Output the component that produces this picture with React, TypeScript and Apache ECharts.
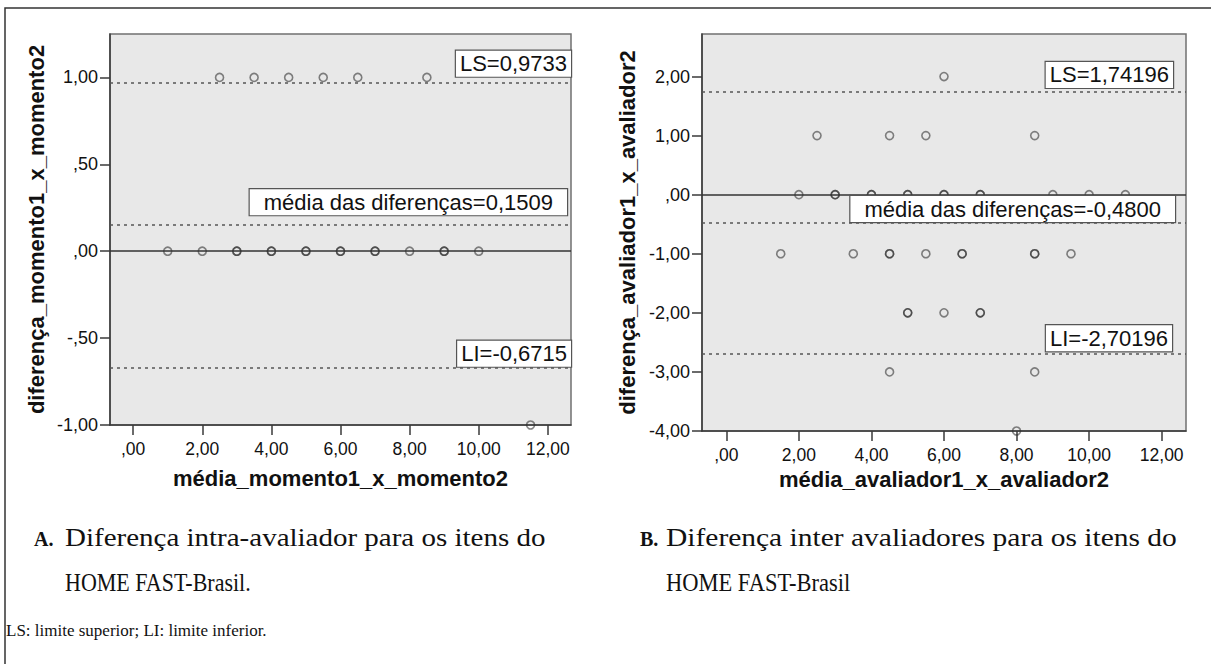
import React, { useEffect, useRef } from "react";
import * as echarts from "echarts";

// ---- data ----
const xTicks = [0, 2, 4, 6, 8, 10, 12];
const intraYTicks = [-1, -0.5, 0, 0.5, 1];
const interYTicks = [-4, -3, -2, -1, 0, 1, 2];

// A: intra-avaliador (média vs diferença) — duplicates = overlapping points
const intraMean = [2.5, 3.5, 4.5, 5.5, 6.5, 8.5, 1, 2, 3, 3, 4, 4, 5, 5, 6, 6, 7, 7, 8, 9, 9, 10, 11.5];
const intraDiff = [1, 1, 1, 1, 1, 1, 0, 0, 0, 0, 0, 0, 0, 0, 0, 0, 0, 0, 0, 0, 0, 0, -1];

// B: inter avaliadores
const interMean = [
  6,
  2.5, 4.5, 5.5, 8.5,
  2, 3, 3, 4, 4, 5, 5, 6, 6, 7, 7, 9, 10, 11,
  1.5, 3.5, 4.5, 4.5, 5.5, 6.5, 6.5, 8.5, 8.5, 9.5,
  5, 5, 6, 7, 7,
  4.5, 8.5,
  8,
];
const interDiff = [
  2,
  1, 1, 1, 1,
  0, 0, 0, 0, 0, 0, 0, 0, 0, 0, 0, 0, 0, 0,
  -1, -1, -1, -1, -1, -1, -1, -1, -1, -1,
  -2, -2, -2, -2, -2,
  -3, -3,
  -4,
];

const intraLimits = { ls: 0.9733, mean: 0.1509, li: -0.6715 };
const interLimits = { ls: 1.74196, mean: -0.48, li: -2.70196 };

const xTitleA = "média_momento1_x_momento2";
const yTitleA = "diferença_momento1_x_momento2";
const xTitleB = "média_avaliador1_x_avaliador2";
const yTitleB = "diferença_avaliador1_x_avaliador2";

const captionA = "Diferença intra-avaliador para os itens do";
const captionB = "Diferença inter avaliadores para os itens do";
const captionA2 = "HOME FAST-Brasil.";
const captionB2 = "HOME FAST-Brasil";
const footnote = "LS: limite superior; LI: limite inferior.";

// ---- helpers ----
const SANS = "'Liberation Sans', Arial, sans-serif";
const SERIF = "'Liberation Serif', 'Times New Roman', serif";

const spss = (v: number) => {
  let s = Math.abs(v).toFixed(2).replace(".", ",");
  if (s.startsWith("0,")) s = s.slice(1);
  return (v < 0 ? "-" : "") + s;
};
const dec = (v: number, n: number) => v.toFixed(n).replace(".", ",");

const pairs = (xs: number[], ys: number[]) => xs.map((x, i) => [x, ys[i]]);

const tickStyle = { color: "#3a3a3a", width: 1.5 };

function xAxisCfg(grid: number, name: string, gap: number) {
  return {
    gridIndex: grid,
    type: "value",
    min: -0.67,
    max: 12.67,
    axisLine: { show: true, onZero: false, lineStyle: tickStyle },
    axisTick: { show: true, length: 10, customValues: xTicks, lineStyle: tickStyle },
    axisLabel: { customValues: xTicks, formatter: spss, margin: 15, color: "#111", fontSize: 17.5, fontFamily: SANS },
    splitLine: { show: false },
    name,
    nameLocation: "middle",
    nameGap: gap,
    nameTextStyle: { fontSize: 22, fontWeight: "bold", color: "#111", fontFamily: SANS },
  };
}

function yAxisCfg(grid: number, min: number, max: number, ticks: number[], name: string, gap: number) {
  return {
    gridIndex: grid,
    type: "value",
    min,
    max,
    axisLine: { show: true, onZero: false, lineStyle: tickStyle },
    axisTick: { show: true, length: 10, customValues: ticks, lineStyle: tickStyle },
    axisLabel: { customValues: ticks, formatter: spss, margin: 12, color: "#111", fontSize: 18, fontFamily: SANS },
    splitLine: { show: false },
    name,
    nameLocation: "middle",
    nameRotate: 90,
    nameGap: gap,
    nameTextStyle: { fontSize: 22, fontWeight: "bold", color: "#111", fontFamily: SANS },
  };
}

const dotted = { type: [3, 4], color: "#555", width: 1.6 };

function boxLabel(text: string, dist: number[], pad: number[]) {
  return {
    show: true,
    position: "insideEndTop",
    formatter: text,
    distance: dist,
    backgroundColor: "#ffffff",
    borderColor: "#555",
    borderWidth: 1.2,
    padding: pad,
    fontSize: 22,
    lineHeight: 22,
    color: "#111",
    fontFamily: SANS,
  };
}

function scatterSeries(idx: number, data: number[][], lim: { ls: number; mean: number; li: number }, lsDec: number, d: number[][]) {
  return {
    type: "scatter",
    xAxisIndex: idx,
    yAxisIndex: idx,
    data,
    symbol: "circle",
    symbolSize: 8,
    itemStyle: { color: "rgba(0,0,0,0)", borderColor: "rgba(45,45,45,0.72)", borderWidth: 1.6 },
    emphasis: { disabled: true },
    z: 3,
    markLine: {
      silent: true,
      symbol: ["none", "none"],
      animation: false,
      data: [
        { yAxis: 0, lineStyle: { type: "solid", color: "#333", width: 1.6 }, label: { show: false } },
        { yAxis: lim.ls, lineStyle: dotted, label: boxLabel("LS=" + dec(lim.ls, lsDec), d[0], [2, 4]) },
        { yAxis: lim.mean, lineStyle: dotted, label: boxLabel("média das diferenças=" + dec(lim.mean, 4), d[1], [2, 14]) },
        { yAxis: lim.li, lineStyle: dotted, label: boxLabel("LI=" + dec(lim.li, lsDec), d[2], [2, 4]) },
      ],
    },
  };
}

const capFont = `25px ${SERIF}`;
const capBold = `bold 20px ${SERIF}`;

export default function App() {
  const ref = useRef<HTMLDivElement>(null);

  useEffect(() => {
    if (!ref.current) return;
    const chart = echarts.init(ref.current, null, { renderer: "svg" });
    const option = {
      animation: false,
      backgroundColor: "#ffffff",
      grid: [
        { left: 110, top: 34, width: 461, height: 391, show: true, backgroundColor: "#e8e8e8", borderColor: "#707070", borderWidth: 1.5 },
        { left: 702, top: 34, width: 484, height: 397, show: true, backgroundColor: "#e8e8e8", borderColor: "#707070", borderWidth: 1.5 },
      ],
      xAxis: [xAxisCfg(0, xTitleA, 42), xAxisCfg(1, xTitleB, 36)],
      yAxis: [
        yAxisCfg(0, -1, 1.25, intraYTicks, yTitleA, 63),
        yAxisCfg(1, -4, 2.72, interYTicks, yTitleB, 64),
      ],
      series: [
        scatterSeries(0, pairs(intraMean, intraDiff), intraLimits, 4, [[0, 6], [4, 10], [0, 1]]),
        scatterSeries(1, pairs(interMean, interDiff), interLimits, 5, [[13, 4], [11, 1], [14, 3]]),
      ],
      graphic: [
        { type: "rect", shape: { x: 5, y: 8, width: 1230, height: 700 }, style: { fill: "none", stroke: "#333", lineWidth: 1.5 }, silent: true },
        { type: "text", x: 34, y: 539, style: { text: "A.", font: capBold, fill: "#111", verticalAlign: "middle" } },
        { type: "text", x: 65, y: 538, scaleX: 1.16, style: { text: captionA, font: capFont, fill: "#111", verticalAlign: "middle" } },
        { type: "text", x: 65, y: 583, scaleX: 0.88, style: { text: captionA2, font: capFont, fill: "#111", verticalAlign: "middle" } },
        { type: "text", x: 640, y: 539, style: { text: "B.", font: capBold, fill: "#111", verticalAlign: "middle" } },
        { type: "text", x: 666, y: 538, scaleX: 1.18, style: { text: captionB, font: capFont, fill: "#111", verticalAlign: "middle" } },
        { type: "text", x: 666, y: 583, scaleX: 0.9, style: { text: captionB2, font: capFont, fill: "#111", verticalAlign: "middle" } },
        { type: "text", x: 6, y: 630, style: { text: footnote, font: `17px ${SERIF}`, fill: "#111", verticalAlign: "middle" } },
      ],
    };
    chart.setOption(option as any);
    return () => chart.dispose();
  }, []);

  return <div ref={ref} style={{ position: "absolute", left: 0, top: 0, width: 1211, height: 664 }} />;
}
